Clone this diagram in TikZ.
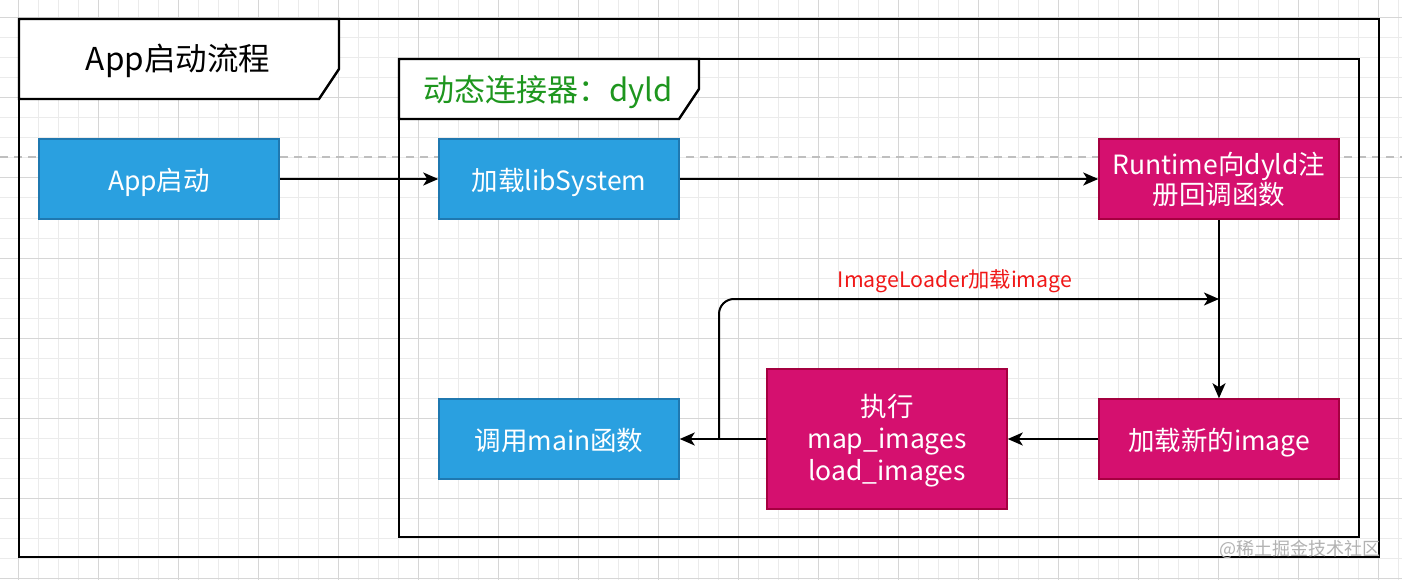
\documentclass[tikz,border=0pt]{standalone}
\usepackage{fontspec}
\setmainfont{Noto Sans CJK SC}
\usetikzlibrary{arrows.meta}
\definecolor{bluefill}{HTML}{2AA0E0}
\definecolor{bluestroke}{HTML}{1F78B0}
\definecolor{magfill}{HTML}{D5106F}
\definecolor{magstroke}{HTML}{A50040}
\definecolor{titlegreen}{HTML}{1E961E}
\definecolor{gridminor}{HTML}{EBEBEB}
\definecolor{gridmajor}{HTML}{D6D6D6}
\definecolor{labelred}{HTML}{F01818}
\tikzset{
  minorline/.style={draw=gridminor, line width=1pt},
  majorline/.style={draw=gridmajor, line width=1pt},
  guide/.style={draw=black!25, line width=1.2pt, dash pattern=on 8pt off 6pt},
  container/.style={draw=black, line width=2.4pt},
  header/.style={draw=black, line width=2.4pt, fill=white},
  boxbase/.style={line width=1.5pt, text=white,
    minimum width=240pt, minimum height=80pt, inner sep=0pt, align=center,
    font=\fontsize{26.5}{31}\selectfont},
  oneline/.style={text height=25pt, text depth=3pt},
  bluebox/.style={boxbase, draw=bluestroke, fill=bluefill},
  magbox/.style={boxbase, draw=magstroke, fill=magfill},
  edge/.style={draw=black, line width=2pt,
    -{Stealth[length=15pt, width=13pt, inset=4pt]}},
}
\begin{document}
\begin{tikzpicture}[x=1pt, y=-1pt]
\useasboundingbox (0,0) rectangle (1402,580);
\fill[white] (0,0) rectangle (1402,580);
% background grid
\foreach \x in {18,38,...,1398} \draw[minorline] (\x,0) -- (\x,580);
\foreach \y in {18,38,...,578} \draw[minorline] (0,\y) -- (1402,\y);
\foreach \x in {18,98,...,1398} \draw[majorline] (\x,0) -- (\x,580);
\foreach \y in {18,98,...,578} \draw[majorline] (0,\y) -- (1402,\y);
% dashed guide
\draw[guide] (0,157) -- (1402,157);
% outer container
\draw[container] (19,19) rectangle (1379,557);
\draw[header] (19,19) -- (339,19) -- (339,69) -- (319,99) -- (19,99) -- cycle;
\node[font=\fontsize{31.5}{36}\selectfont, text height=28pt, text depth=4pt] (title) at (178,59) {App启动流程};
% inner container
\draw[container] (399,59) rectangle (1359,537);
\draw[header] (399,59) -- (699,59) -- (699,89) -- (679,119) -- (399,119) -- cycle;
\node[font=\fontsize{31}{36}\selectfont, text=titlegreen, text height=28pt, text depth=4pt] (dyld) at (548,90) {动态连接器：dyld};
% boxes
\node[bluebox, oneline] (app) at (159,179) {App启动};
\node[bluebox, oneline] (lib) at (559,179) {加载libSystem};
\node[magbox, font=\fontsize{26.5}{30}\selectfont] (rt) at (1219,179) {\rule{0pt}{24pt}Runtime向dyld注\\册回调函数};
\node[magbox, oneline] (newimg) at (1219,439) {加载新的image};
\node[magbox, minimum height=140pt, font=\fontsize{26.5}{32}\selectfont] (exec) at (887,439) {\rule{0pt}{25pt}执行\\map\_images\\load\_images};
\node[bluebox, oneline] (main) at (559,439) {调用main函数};
% connectors
\draw[edge] (app) -- (lib);
\draw[edge] (lib) -- (rt);
\draw[edge] (rt) -- (newimg);
\draw[edge] (newimg) -- (exec);
\draw[edge] (exec) -- (main);
\coordinate (loopstart) at (719,439);
\coordinate (looptarget) at (1219,299);
\draw[edge, rounded corners=15pt] (loopstart) |- (looptarget);
\node[text=labelred, font=\fontsize{21.3}{24}\selectfont] (looplabel) at (955,281) {ImageLoader加载image};
% watermark
\node[text=black!30, font=\fontsize{18}{20}\selectfont, anchor=east] (wm) at (1384,549) {@稀土掘金技术社区};
\end{tikzpicture}
\end{document}
